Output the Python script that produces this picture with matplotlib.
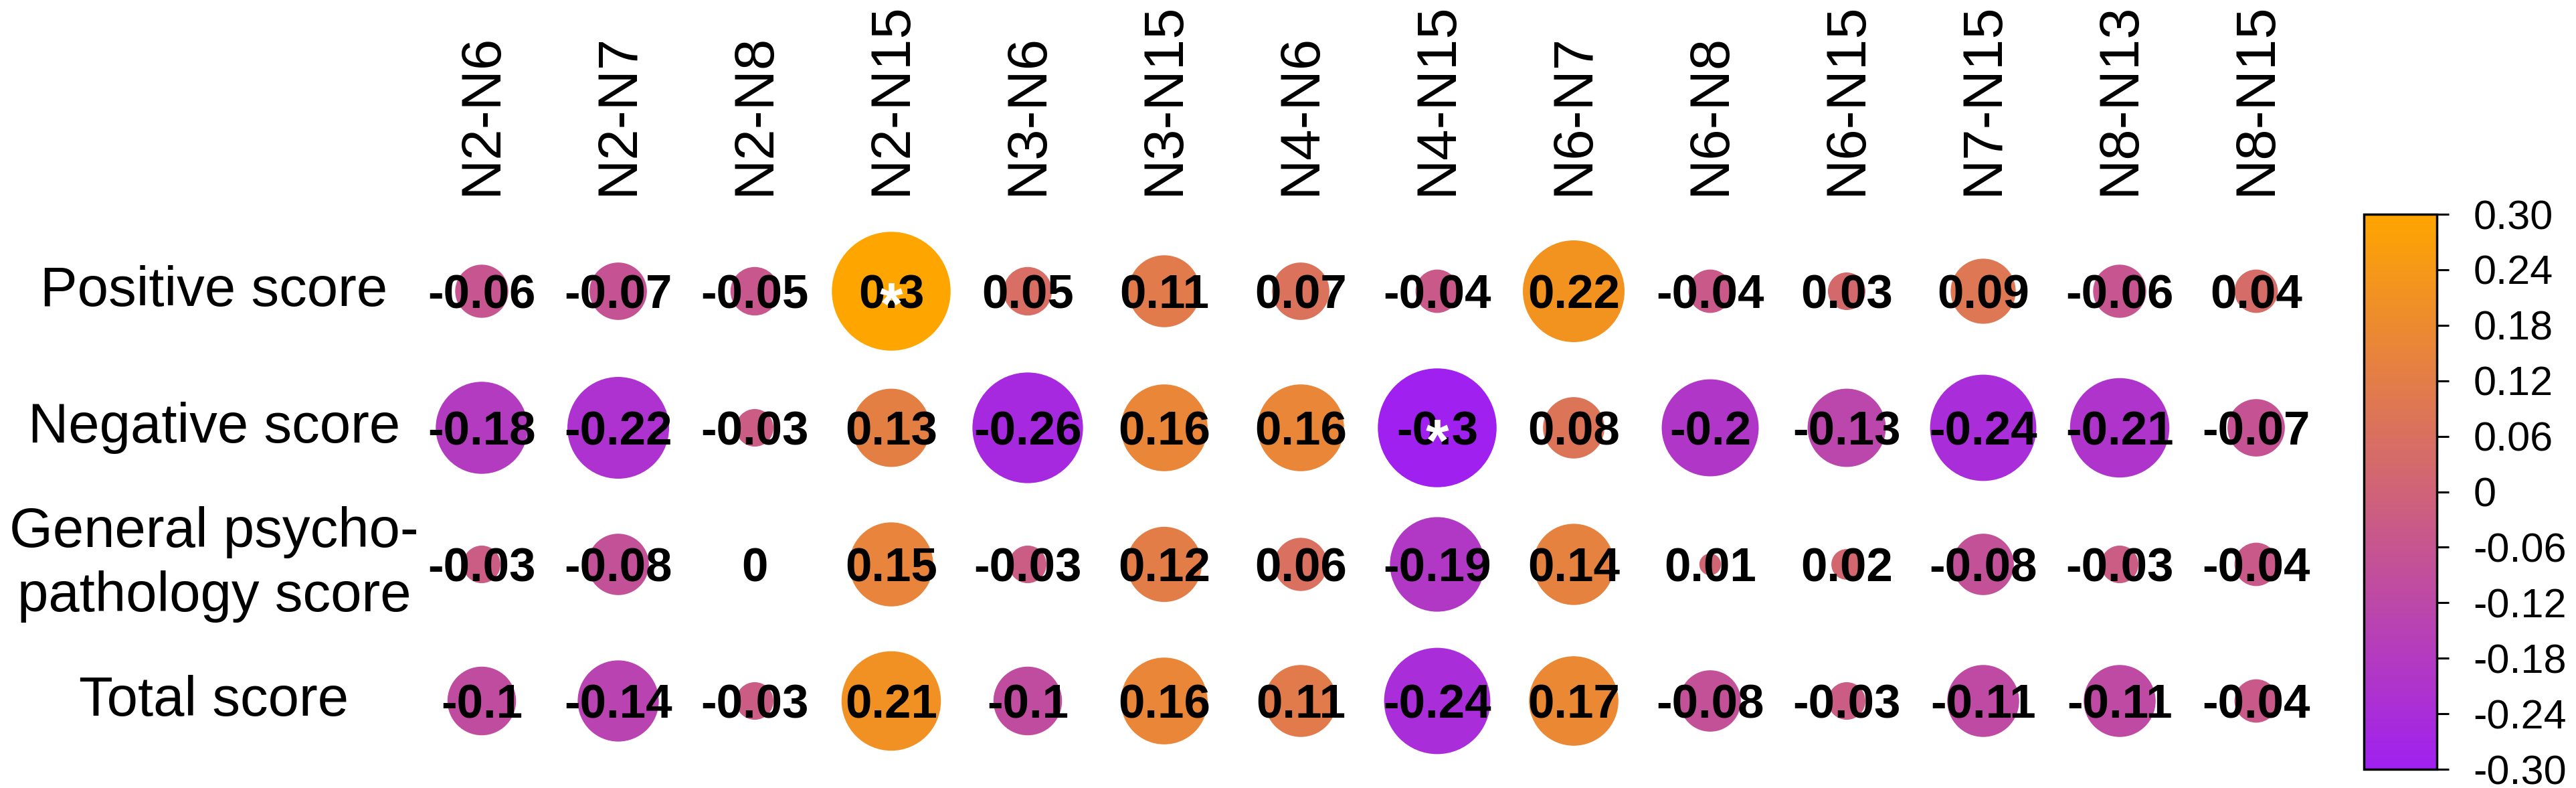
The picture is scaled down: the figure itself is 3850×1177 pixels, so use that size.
import numpy as np
import matplotlib
matplotlib.use("Agg")
import matplotlib.pyplot as plt
import matplotlib.transforms as mtransforms
from matplotlib.colors import LinearSegmentedColormap, Normalize
from matplotlib.patches import Ellipse
from matplotlib.cm import ScalarMappable

plt.rcParams["font.family"] = ["Liberation Sans", "DejaVu Sans"]

# ---- data -------------------------------------------------------------
pairs = ["N2-N6", "N2-N7", "N2-N8", "N2-N15", "N3-N6", "N3-N15", "N4-N6",
         "N4-N15", "N6-N7", "N6-N8", "N6-N15", "N7-N15", "N8-N13", "N8-N15"]
scores = ["Positive score", "Negative score",
          "General psycho-\npathology score", "Total score"]

positive = [-0.06, -0.07, -0.05, 0.30, 0.05, 0.11, 0.07, -0.04, 0.22, -0.04, 0.03, 0.09, -0.06, 0.04]
negative = [-0.18, -0.22, -0.03, 0.13, -0.26, 0.16, 0.16, -0.30, 0.08, -0.20, -0.13, -0.24, -0.21, -0.07]
general = [-0.03, -0.08, 0.00, 0.15, -0.03, 0.12, 0.06, -0.19, 0.14, 0.01, 0.02, -0.08, -0.03, -0.04]
total = [-0.10, -0.14, -0.03, 0.21, -0.10, 0.16, 0.11, -0.24, 0.17, -0.08, -0.03, -0.11, -0.11, -0.04]

# (row, column) cells marked significant
significant = [(0, 3), (1, 7)]

cbar_ticks = [0.30, 0.24, 0.18, 0.12, 0.06, 0.0, -0.06, -0.12, -0.18, -0.24, -0.30]
cbar_labels = ["0.30", "0.24", "0.18", "0.12", "0.06", "0",
               "-0.06", "-0.12", "-0.18", "-0.24", "-0.30"]

# ---- figure -----------------------------------------------------------
W, H, DPI = 3850, 1177, 100
fig = plt.figure(figsize=(W / DPI, H / DPI), dpi=DPI)

cmap = LinearSegmentedColormap.from_list("po", ["#A020F0", "#FFA500"])
norm = Normalize(vmin=-0.3, vmax=0.3)

# main grid: square cells of 204 px, first column at x=720, first row at y=435
CW, RH = 204, 204
ax = fig.add_axes([(720 - CW / 2) / W, 1 - (435 - RH / 2 + RH * len(scores)) / H,
                   CW * len(pairs) / W, RH * len(scores) / H])
ax.set_xlim(-0.5, len(pairs) - 0.5)
ax.set_ylim(len(scores) - 0.5, -0.5)
ax.axis("off")

mat = np.array([positive, negative, general, total])
for r in range(mat.shape[0]):
    for c in range(mat.shape[1]):
        v = mat[r, c]
        d = 0.87 * np.sqrt(abs(v) / 0.3)   # circle area ~ |r|
        if d > 0:
            ax.add_patch(Ellipse((c, r), d, d, facecolor=cmap(norm(v)),
                                 edgecolor="none", zorder=1))
        ax.text(c, r, f"{v:g}", ha="center", va="center_baseline",
                fontsize=51, fontweight="bold", color="black", zorder=3)

star_tr = mtransforms.offset_copy(ax.transData, fig=fig, y=-35, units="points")
for r, c in significant:
    ax.text(c, r, "*", ha="center", va="baseline", fontsize=64,
            fontweight="bold", color="white", transform=star_tr, zorder=4)

# row labels (centered, left of the grid)
row_tr = mtransforms.blended_transform_factory(fig.transFigure, ax.transData)
for r, lab in enumerate(scores):
    ax.text(320 / W, r, lab, ha="center", va="center", fontsize=60,
            multialignment="center", linespacing=1.3, transform=row_tr,
            clip_on=False)

# column labels (rotated, above the grid)
col_tr = mtransforms.blended_transform_factory(ax.transData, fig.transFigure)
for c, lab in enumerate(pairs):
    ax.text(c, 1 - 292 / H, lab, ha="center", va="bottom", rotation=90,
            fontsize=60, transform=col_tr, clip_on=False)

# colour bar
cax = fig.add_axes([3533 / W, 1 - 1149 / H, 109 / W, 829 / H])
sm = ScalarMappable(norm=norm, cmap=cmap)
cb = fig.colorbar(sm, cax=cax, ticks=cbar_ticks)
cb.ax.set_yticklabels(cbar_labels)
cb.outline.set_linewidth(2.5)
cb.ax.tick_params(length=13, width=2.2, pad=26, labelsize=44)

fig.savefig("out.png", dpi=DPI)
